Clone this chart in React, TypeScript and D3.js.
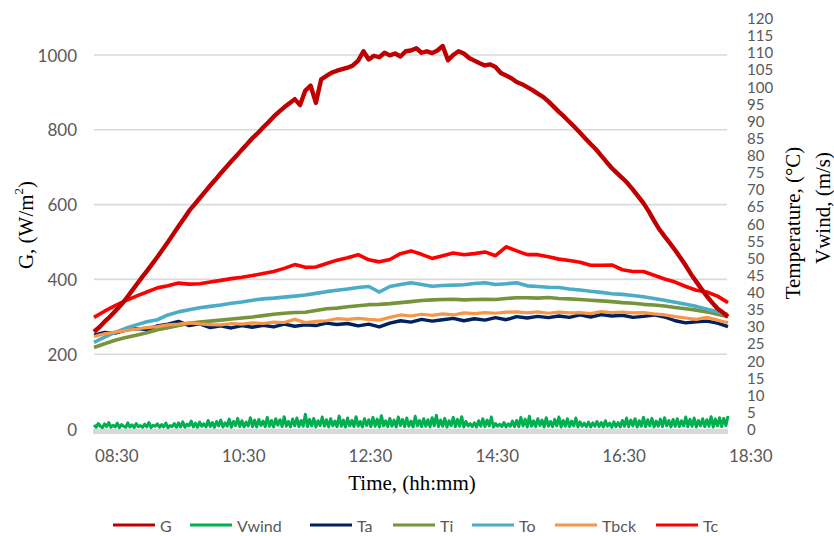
import React from 'react';
import * as d3 from 'd3';

const timeTicks = ['08:30', '10:30', '12:30', '14:30', '16:30', '18:30'];
const tickMinutes = [0, 120, 240, 360, 480, 600];
const leftTicks = [0, 200, 400, 600, 800, 1000];
const rightTicks = d3.range(0, 121, 5);

// G (W/m2), every 5 min from 08:30 to 18:30
const G = [
  260, 272, 287, 300, 315, 330, 347, 366, 385, 404, 422, 441, 460, 480, 500, 521, 542, 562, 583, 600,
  617, 634, 651, 667, 684, 700, 716, 731, 747, 762, 778, 791, 806, 820, 835, 848, 860, 871, 882, 866,
  905, 918, 872, 935, 944, 953, 958, 962, 966, 972, 985, 1010, 988, 998, 994, 1006, 999, 1004, 996, 1010,
  1012, 1018, 1006, 1010, 1005, 1012, 1024, 986, 1000, 1010, 1004, 992, 985, 978, 972, 975, 968, 952, 945, 938,
  928, 922, 914, 906, 897, 888, 876, 862, 848, 835, 821, 807, 792, 777, 762, 748, 731, 714, 698, 684,
  671, 657, 640, 622, 604, 582, 557, 534, 515, 497, 478, 458, 437, 414, 394, 374, 355, 338, 322, 312, 300,
];

// Vwind (m/s), every 2 min
const Vwind = [
  1.2, 0.5, 1.6, 0.8, 0.4, 1.5, 0.7, 1.9, 0.5, 1.1, 0.6, 1.7, 0.4, 1.3, 0.8, 0.5, 1.8, 0.6, 1.2, 0.4,
  1.6, 0.7, 1.0, 0.5, 1.4, 0.6, 1.9, 0.4, 1.1, 0.8, 1.5, 0.5, 1.3, 0.6, 1.7, 0.4, 1.0, 0.7, 1.6, 0.5,
  1.8, 0.6, 2.1, 0.5, 1.4, 0.9, 2.3, 0.6, 1.7, 0.5, 2.0, 0.8, 1.5, 0.6, 2.5, 0.7, 1.9, 0.5, 2.2, 0.9,
  2.6, 0.6, 1.8, 0.8, 2.9, 0.5, 2.2, 1.0, 3.1, 0.7, 2.4, 0.6, 2.0, 0.9, 3.3, 0.7, 2.6, 0.6, 2.8, 1.0,
  2.3, 0.7, 3.4, 0.8, 2.5, 0.6, 3.0, 1.1, 2.7, 0.7, 3.6, 0.8, 2.2, 0.6, 2.9, 0.9, 3.2, 0.7, 2.5, 0.8,
  4.3, 0.7, 2.8, 0.9, 3.1, 0.6, 2.4, 1.0, 3.5, 0.8, 2.7, 0.6, 3.0, 0.9, 2.3, 0.7, 3.8, 0.8, 2.6, 0.6,
  3.2, 0.9, 2.5, 0.7, 3.6, 0.8, 2.2, 0.6, 3.0, 1.0, 2.7, 0.7, 3.4, 0.8, 2.9, 0.6, 3.9, 0.9, 2.4, 0.7,
  3.1, 0.8, 2.6, 0.6, 3.5, 1.0, 2.8, 0.7, 3.2, 0.8, 2.3, 0.6, 3.7, 0.9, 2.5, 0.7, 3.0, 0.8, 2.7, 0.6,
  3.3, 0.9, 4.0, 0.7, 2.6, 0.8, 3.1, 0.6, 2.4, 1.0, 3.4, 0.7, 2.8, 0.8, 3.6, 0.6, 2.2, 0.9, 1.6, 0.7,
  1.8, 0.6, 2.4, 0.8, 3.0, 0.7, 2.6, 0.9, 3.5, 0.6, 1.6, 0.8, 1.4, 0.7, 1.9, 0.6, 1.5, 0.8, 2.3, 0.7,
  2.5, 0.7, 3.4, 0.9, 2.9, 0.6, 3.7, 0.8, 2.4, 0.7, 3.0, 1.0, 2.6, 0.6, 3.3, 0.8, 2.2, 0.7, 2.8, 0.9,
  3.5, 0.6, 2.5, 0.8, 3.0, 0.7, 2.3, 0.9, 3.2, 0.6, 2.1, 0.8, 1.7, 0.7, 2.0, 0.6, 1.8, 0.8, 2.2, 0.7,
  1.9, 0.6, 2.4, 0.8, 1.7, 0.5, 2.1, 0.7, 1.9, 0.6, 2.5, 0.8, 3.2, 0.7, 2.6, 0.9, 3.0, 0.6, 2.4, 0.8,
  3.4, 0.7, 2.7, 0.9, 3.1, 0.6, 2.3, 0.8, 2.9, 0.7, 3.3, 0.9, 2.5, 0.6, 2.8, 0.8, 3.0, 0.7, 2.4, 0.9,
  3.5, 0.7, 2.8, 0.8, 3.2, 0.6, 2.5, 0.9, 3.0, 0.7, 2.7, 0.8, 3.6, 0.6, 2.9, 0.9, 3.3, 0.7, 3.1, 1.0, 3.8,
];

// Temperatures (°C), every 10 min
const Ta = [
  27.4, 28.2, 28.0, 28.9, 29.3, 29.0, 30.1, 30.6, 31.4, 30.2, 30.7, 29.6, 30.1, 29.5, 30.2, 29.7, 30.3, 29.8, 30.6, 30.0,
  30.4, 30.2, 30.9, 30.5, 30.8, 30.1, 30.6, 29.8, 30.9, 31.6, 31.2, 32.0, 31.5, 31.9, 32.3, 31.6, 32.2, 31.8, 32.5, 31.9,
  32.8, 32.4, 32.9, 32.5, 33.0, 32.6, 33.3, 32.7, 33.4, 33.0, 33.2, 32.6, 32.9, 33.3, 32.7, 31.6, 31.0, 31.3, 31.5, 30.9, 29.9,
];
const Ti = [
  23.8, 24.9, 25.9, 26.7, 27.4, 28.1, 29.0, 29.6, 30.2, 30.9, 31.2, 31.5, 31.8, 32.1, 32.4, 32.7, 33.1, 33.5, 33.8, 34.0,
  34.1, 34.6, 35.1, 35.3, 35.7, 36.0, 36.3, 36.4, 36.6, 36.9, 37.2, 37.5, 37.7, 37.8, 37.9, 37.7, 37.8, 37.9, 37.8, 38.1,
  38.3, 38.3, 38.2, 38.4, 38.1, 38.0, 37.8, 37.6, 37.4, 37.2, 36.9, 36.7, 36.4, 36.2, 35.9, 35.5, 35.1, 34.7, 34.2, 33.5, 32.8,
];
const To = [
  25.3, 26.8, 28.2, 29.4, 30.4, 31.3, 31.9, 33.3, 34.2, 34.8, 35.4, 35.8, 36.2, 36.7, 37.1, 37.6, 38.0, 38.2, 38.5, 38.8,
  39.1, 39.6, 40.1, 40.5, 40.9, 41.3, 41.6, 40.0, 41.6, 42.2, 42.7, 42.2, 41.7, 41.9, 42.0, 42.1, 42.5, 42.7, 42.2, 42.4,
  42.7, 41.8, 41.6, 41.4, 41.3, 40.9, 40.6, 40.2, 39.9, 39.5, 39.3, 39.0, 38.6, 38.1, 37.6, 37.0, 36.4, 35.8, 35.0, 34.2, 33.4,
];
const Tbck = [
  27.0, 27.8, 28.3, 28.7, 29.2, 29.6, 29.9, 30.4, 30.6, 31.0, 30.7, 30.5, 30.4, 30.8, 30.6, 31.0, 30.8, 31.2, 31.1, 32.0,
  31.1, 31.4, 31.6, 32.2, 32.0, 32.3, 32.0, 31.8, 32.6, 33.3, 33.0, 33.5, 33.2, 33.6, 33.3, 33.9, 33.7, 34.0, 33.8, 34.1,
  34.2, 33.9, 34.2, 33.8, 34.1, 33.9, 34.0, 33.7, 34.3, 34.0, 34.1, 33.9, 34.0, 33.6, 33.3, 32.8, 32.4, 32.0, 32.6, 31.8, 31.0,
];
const Tc = [
  32.6, 34.4, 36.0, 37.5, 38.8, 40.0, 41.2, 41.8, 42.6, 42.3, 42.4, 42.9, 43.4, 43.9, 44.3, 44.8, 45.4, 46.0, 46.9, 48.0,
  47.2, 47.3, 48.3, 49.3, 50.0, 50.9, 49.4, 48.8, 49.5, 51.2, 52.0, 51.0, 49.8, 50.6, 51.4, 50.9, 51.2, 51.7, 50.6, 53.2,
  52.0, 50.9, 50.9, 50.3, 49.6, 49.2, 48.7, 47.8, 47.8, 47.9, 46.5, 46.0, 46.0, 44.9, 43.8, 42.9, 41.6, 40.5, 40.0, 38.8, 36.9,
];

const seriesNames = ['G', 'Vwind', 'Ta', 'Ti', 'To', 'Tbck', 'Tc'];
const seriesColors = ['#C00000', '#00B050', '#002060', '#77933C', '#4BACC6', '#F79646', '#FF0000'];

const tickFont = 'Lato, "Open Sans", sans-serif';
const titleFont = '"Liberation Serif", "Times New Roman", serif';

export default function App() {
  const W = 834;
  const H = 536;
  const x = d3.scaleLinear().domain([0, 600]).range([94, 728]);
  const yG = d3.scaleLinear().domain([0, 1100]).range([429, 17.6]);
  const yT = d3.scaleLinear().domain([0, 120]).range([429, 18]);

  const mk = (arr: number[], y: d3.ScaleLinear<number, number>) =>
    d3
      .line<number>()
      .x((_, i) => x((i * 600) / (arr.length - 1)))
      .y((d) => y(d))(arr) || '';

  const tempSeries: [number[], string, number][] = [
    [Ta, seriesColors[2], 3.4],
    [Ti, seriesColors[3], 3.6],
    [To, seriesColors[4], 3.6],
    [Tbck, seriesColors[5], 3.2],
    [Tc, seriesColors[6], 3.6],
  ];

  const legendLineX = [113, 190, 310, 393, 472, 555, 656];

  return (
    <svg
      width={W}
      height={H}
      style={{ position: 'absolute', left: 0, top: 0, background: '#fff' }}
    >
      {/* gridlines */}
      {leftTicks
        .filter((v) => v > 0)
        .map((v) => (
          <line key={v} x1={94} x2={727} y1={yG(v)} y2={yG(v)} stroke="#D9D9D9" strokeWidth={1.6} />
        ))}
      <rect x={93} y={429} width={635} height={5} fill="#D9D9D9" />

      {/* left ticks */}
      {leftTicks.map((v) => (
        <text
          key={v}
          x={77}
          y={yG(v)}
          textAnchor="end"
          dominantBaseline="central"
          fontFamily={tickFont}
          fontSize={17}
          fill="#595959"
        >
          {v}
        </text>
      ))}
      {/* right ticks */}
      {rightTicks.map((v) => (
        <text
          key={v}
          x={747}
          y={yT(v)}
          textAnchor="start"
          dominantBaseline="central"
          fontFamily={tickFont}
          fontSize={15}
          fill="#595959"
        >
          {v}
        </text>
      ))}
      {/* x ticks */}
      {timeTicks.map((t, i) => (
        <text
          key={t}
          x={x(tickMinutes[i]) + 1}
          y={462}
          textAnchor="start"
          fontFamily={tickFont}
          fontSize={17}
          fill="#595959"
        >
          {t}
        </text>
      ))}

      {/* series */}
      <path d={mk(Vwind, yT)} fill="none" stroke={seriesColors[1]} strokeWidth={3} strokeLinejoin="round" />
      {tempSeries.map(([arr, c, w], i) => (
        <path key={i} d={mk(arr, yT)} fill="none" stroke={c} strokeWidth={w} strokeLinejoin="round" />
      ))}
      <path d={mk(G, yG)} fill="none" stroke={seriesColors[0]} strokeWidth={4.4} strokeLinejoin="round" />

      {/* axis titles */}
      <text x={412} y={490} textAnchor="middle" fontFamily={titleFont} fontSize={21} fill="#000">
        Time, (hh:mm)
      </text>
      <text
        transform="translate(26,225) rotate(-90)"
        textAnchor="middle"
        dominantBaseline="central"
        fontFamily={titleFont}
        fontSize={21}
        fill="#000"
      >
        G, (W/m
        <tspan fontSize={13} dy={-8}>
          2
        </tspan>
        <tspan dy={8}>)</tspan>
      </text>
      <text
        transform="translate(793,223) rotate(-90)"
        textAnchor="middle"
        dominantBaseline="central"
        fontFamily={titleFont}
        fontSize={21}
        fill="#000"
      >
        Temperature, (°C)
      </text>
      <text
        transform="translate(823,208) rotate(-90)"
        textAnchor="middle"
        dominantBaseline="central"
        fontFamily={titleFont}
        fontSize={21}
        fill="#000"
      >
        Vwind, (m/s)
      </text>

      {/* legend */}
      {seriesNames.map((n, i) => (
        <g key={n}>
          <line
            x1={legendLineX[i]}
            x2={legendLineX[i] + 42}
            y1={525}
            y2={525}
            stroke={seriesColors[i]}
            strokeWidth={3}
          />
          <text
            x={legendLineX[i] + 47}
            y={525}
            dominantBaseline="central"
            fontFamily={tickFont}
            fontSize={16}
            fill="#595959"
          >
            {n}
          </text>
        </g>
      ))}
    </svg>
  );
}
